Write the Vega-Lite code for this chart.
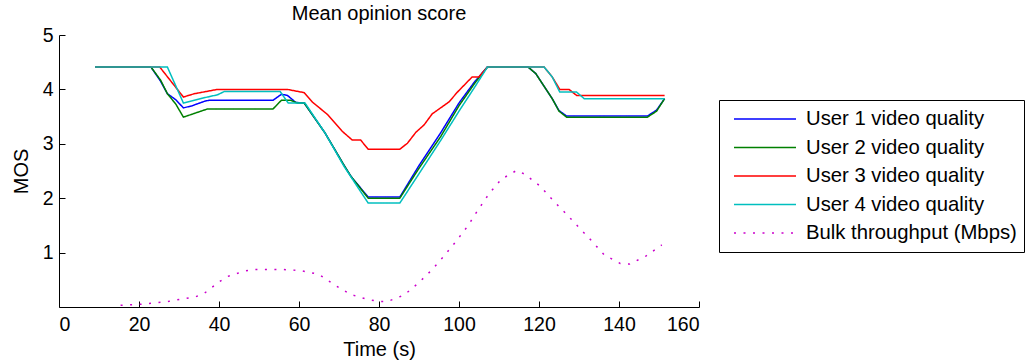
{
  "$schema": "https://vega.github.io/schema/vega-lite/v6.json",
  "width": 640,
  "height": 272,
  "autosize": {"type": "none"},
  "padding": {"left": 59, "top": 35, "right": 328, "bottom": 56},
  "background": "white",
  "title": {"text": "Mean opinion score", "fontSize": 20, "font": "Liberation Sans", "fontWeight": "normal", "offset": 1, "color": "black"},
  "config": {
    "view": {"stroke": null},
    "font": "Liberation Sans",
    "axis": {"grid": false, "domainColor": "black", "tickColor": "black", "labelColor": "black", "titleColor": "black", "labelFont": "Liberation Sans", "titleFont": "Liberation Sans", "labelFontSize": 19.5, "titleFontSize": 20, "titleFontWeight": "normal", "tickSize": -6, "domainWidth": 1, "tickWidth": 1},
    "legend": {"orient": "none", "legendX": 660, "legendY": 65, "strokeColor": "black", "fillColor": "white", "padding": 7, "labelFontSize": 20.3, "labelFont": "Liberation Sans", "labelColor": "black", "symbolType": "stroke", "symbolSize": 3844, "symbolStrokeWidth": 1.5, "symbolOffset": 7, "labelOffset": 9, "rowPadding": 4.5, "clipHeight": 24, "title": null, "labelLimit": 400}
  },
  "data": {"values": [
    {"s": "User 1 video quality", "t": 9, "v": 4.41},
    {"s": "User 1 video quality", "t": 23, "v": 4.41},
    {"s": "User 1 video quality", "t": 25.4, "v": 4.15},
    {"s": "User 1 video quality", "t": 27.1, "v": 3.92},
    {"s": "User 1 video quality", "t": 29.2, "v": 3.81},
    {"s": "User 1 video quality", "t": 31.1, "v": 3.66},
    {"s": "User 1 video quality", "t": 33.3, "v": 3.7},
    {"s": "User 1 video quality", "t": 36.3, "v": 3.78},
    {"s": "User 1 video quality", "t": 37.5, "v": 3.8},
    {"s": "User 1 video quality", "t": 53.5, "v": 3.8},
    {"s": "User 1 video quality", "t": 55.6, "v": 3.91},
    {"s": "User 1 video quality", "t": 57.1, "v": 3.89},
    {"s": "User 1 video quality", "t": 59.2, "v": 3.76},
    {"s": "User 1 video quality", "t": 61.3, "v": 3.75},
    {"s": "User 1 video quality", "t": 66.5, "v": 3.2},
    {"s": "User 1 video quality", "t": 71.3, "v": 2.6},
    {"s": "User 1 video quality", "t": 73, "v": 2.4},
    {"s": "User 1 video quality", "t": 77.3, "v": 2.02},
    {"s": "User 1 video quality", "t": 85.2, "v": 2.02},
    {"s": "User 1 video quality", "t": 90, "v": 2.6},
    {"s": "User 1 video quality", "t": 95.4, "v": 3.2},
    {"s": "User 1 video quality", "t": 100, "v": 3.75},
    {"s": "User 1 video quality", "t": 104, "v": 4.15},
    {"s": "User 1 video quality", "t": 107.1, "v": 4.41},
    {"s": "User 1 video quality", "t": 117.3, "v": 4.41},
    {"s": "User 1 video quality", "t": 119.2, "v": 4.29},
    {"s": "User 1 video quality", "t": 123.3, "v": 3.83},
    {"s": "User 1 video quality", "t": 125, "v": 3.61},
    {"s": "User 1 video quality", "t": 126.9, "v": 3.51},
    {"s": "User 1 video quality", "t": 147.1, "v": 3.51},
    {"s": "User 1 video quality", "t": 149.4, "v": 3.62},
    {"s": "User 1 video quality", "t": 151.4, "v": 3.83},
    {"s": "User 2 video quality", "t": 9, "v": 4.41},
    {"s": "User 2 video quality", "t": 23, "v": 4.41},
    {"s": "User 2 video quality", "t": 25.4, "v": 4.17},
    {"s": "User 2 video quality", "t": 27.1, "v": 3.92},
    {"s": "User 2 video quality", "t": 29.2, "v": 3.73},
    {"s": "User 2 video quality", "t": 31.1, "v": 3.49},
    {"s": "User 2 video quality", "t": 37.1, "v": 3.64},
    {"s": "User 2 video quality", "t": 53.5, "v": 3.64},
    {"s": "User 2 video quality", "t": 55.6, "v": 3.8},
    {"s": "User 2 video quality", "t": 57.9, "v": 3.8},
    {"s": "User 2 video quality", "t": 59.6, "v": 3.75},
    {"s": "User 2 video quality", "t": 61.3, "v": 3.75},
    {"s": "User 2 video quality", "t": 66.5, "v": 3.2},
    {"s": "User 2 video quality", "t": 71.3, "v": 2.6},
    {"s": "User 2 video quality", "t": 73, "v": 2.4},
    {"s": "User 2 video quality", "t": 77.3, "v": 2.0},
    {"s": "User 2 video quality", "t": 85.2, "v": 2.0},
    {"s": "User 2 video quality", "t": 90, "v": 2.55},
    {"s": "User 2 video quality", "t": 95.4, "v": 3.13},
    {"s": "User 2 video quality", "t": 100, "v": 3.7},
    {"s": "User 2 video quality", "t": 104, "v": 4.12},
    {"s": "User 2 video quality", "t": 107.1, "v": 4.41},
    {"s": "User 2 video quality", "t": 117.3, "v": 4.41},
    {"s": "User 2 video quality", "t": 119.2, "v": 4.29},
    {"s": "User 2 video quality", "t": 123.3, "v": 3.83},
    {"s": "User 2 video quality", "t": 125, "v": 3.6},
    {"s": "User 2 video quality", "t": 126.9, "v": 3.49},
    {"s": "User 2 video quality", "t": 147.1, "v": 3.49},
    {"s": "User 2 video quality", "t": 149.4, "v": 3.6},
    {"s": "User 2 video quality", "t": 151.4, "v": 3.83},
    {"s": "User 3 video quality", "t": 9, "v": 4.41},
    {"s": "User 3 video quality", "t": 25.2, "v": 4.41},
    {"s": "User 3 video quality", "t": 31.1, "v": 3.86},
    {"s": "User 3 video quality", "t": 33.8, "v": 3.92},
    {"s": "User 3 video quality", "t": 39.6, "v": 4.0},
    {"s": "User 3 video quality", "t": 57.1, "v": 4.0},
    {"s": "User 3 video quality", "t": 61.3, "v": 3.94},
    {"s": "User 3 video quality", "t": 63.3, "v": 3.77},
    {"s": "User 3 video quality", "t": 67.1, "v": 3.54},
    {"s": "User 3 video quality", "t": 70.8, "v": 3.23},
    {"s": "User 3 video quality", "t": 73.3, "v": 3.07},
    {"s": "User 3 video quality", "t": 75.4, "v": 3.07},
    {"s": "User 3 video quality", "t": 77.3, "v": 2.9},
    {"s": "User 3 video quality", "t": 85.2, "v": 2.9},
    {"s": "User 3 video quality", "t": 87.1, "v": 3.01},
    {"s": "User 3 video quality", "t": 89.2, "v": 3.21},
    {"s": "User 3 video quality", "t": 91.3, "v": 3.35},
    {"s": "User 3 video quality", "t": 93.3, "v": 3.55},
    {"s": "User 3 video quality", "t": 97.5, "v": 3.77},
    {"s": "User 3 video quality", "t": 99.6, "v": 3.95},
    {"s": "User 3 video quality", "t": 103.3, "v": 4.23},
    {"s": "User 3 video quality", "t": 105, "v": 4.23},
    {"s": "User 3 video quality", "t": 107.1, "v": 4.41},
    {"s": "User 3 video quality", "t": 121.3, "v": 4.41},
    {"s": "User 3 video quality", "t": 123.3, "v": 4.23},
    {"s": "User 3 video quality", "t": 125.2, "v": 4.0},
    {"s": "User 3 video quality", "t": 127.5, "v": 4.0},
    {"s": "User 3 video quality", "t": 129.4, "v": 3.89},
    {"s": "User 3 video quality", "t": 151.4, "v": 3.89},
    {"s": "User 4 video quality", "t": 9, "v": 4.41},
    {"s": "User 4 video quality", "t": 27.1, "v": 4.41},
    {"s": "User 4 video quality", "t": 31.1, "v": 3.75},
    {"s": "User 4 video quality", "t": 33.8, "v": 3.8},
    {"s": "User 4 video quality", "t": 37.1, "v": 3.86},
    {"s": "User 4 video quality", "t": 39.6, "v": 3.9},
    {"s": "User 4 video quality", "t": 41.3, "v": 3.96},
    {"s": "User 4 video quality", "t": 55.3, "v": 3.96},
    {"s": "User 4 video quality", "t": 57.3, "v": 3.75},
    {"s": "User 4 video quality", "t": 61.5, "v": 3.75},
    {"s": "User 4 video quality", "t": 66.5, "v": 3.2},
    {"s": "User 4 video quality", "t": 71.3, "v": 2.58},
    {"s": "User 4 video quality", "t": 77.3, "v": 1.91},
    {"s": "User 4 video quality", "t": 85.2, "v": 1.91},
    {"s": "User 4 video quality", "t": 90, "v": 2.45},
    {"s": "User 4 video quality", "t": 95.4, "v": 3.06},
    {"s": "User 4 video quality", "t": 100, "v": 3.6},
    {"s": "User 4 video quality", "t": 104, "v": 4.05},
    {"s": "User 4 video quality", "t": 107.1, "v": 4.41},
    {"s": "User 4 video quality", "t": 121.3, "v": 4.41},
    {"s": "User 4 video quality", "t": 123.3, "v": 4.23},
    {"s": "User 4 video quality", "t": 125.2, "v": 3.95},
    {"s": "User 4 video quality", "t": 129.4, "v": 3.95},
    {"s": "User 4 video quality", "t": 131.3, "v": 3.83},
    {"s": "User 4 video quality", "t": 151.4, "v": 3.83},
    {"s": "Bulk throughput (Mbps)", "t": 15.4, "v": 0.03},
    {"s": "Bulk throughput (Mbps)", "t": 20.4, "v": 0.05},
    {"s": "Bulk throughput (Mbps)", "t": 27.1, "v": 0.1},
    {"s": "Bulk throughput (Mbps)", "t": 34.2, "v": 0.19},
    {"s": "Bulk throughput (Mbps)", "t": 36.3, "v": 0.25},
    {"s": "Bulk throughput (Mbps)", "t": 37.9, "v": 0.34},
    {"s": "Bulk throughput (Mbps)", "t": 40, "v": 0.46},
    {"s": "Bulk throughput (Mbps)", "t": 42.1, "v": 0.56},
    {"s": "Bulk throughput (Mbps)", "t": 46.3, "v": 0.66},
    {"s": "Bulk throughput (Mbps)", "t": 48.8, "v": 0.69},
    {"s": "Bulk throughput (Mbps)", "t": 55.8, "v": 0.69},
    {"s": "Bulk throughput (Mbps)", "t": 60.4, "v": 0.67},
    {"s": "Bulk throughput (Mbps)", "t": 65, "v": 0.6},
    {"s": "Bulk throughput (Mbps)", "t": 68.8, "v": 0.41},
    {"s": "Bulk throughput (Mbps)", "t": 72.9, "v": 0.23},
    {"s": "Bulk throughput (Mbps)", "t": 77.1, "v": 0.14},
    {"s": "Bulk throughput (Mbps)", "t": 80, "v": 0.1},
    {"s": "Bulk throughput (Mbps)", "t": 82.1, "v": 0.1},
    {"s": "Bulk throughput (Mbps)", "t": 86.3, "v": 0.22},
    {"s": "Bulk throughput (Mbps)", "t": 90, "v": 0.45},
    {"s": "Bulk throughput (Mbps)", "t": 93.3, "v": 0.69},
    {"s": "Bulk throughput (Mbps)", "t": 96.3, "v": 0.94},
    {"s": "Bulk throughput (Mbps)", "t": 99.4, "v": 1.22},
    {"s": "Bulk throughput (Mbps)", "t": 102.3, "v": 1.5},
    {"s": "Bulk throughput (Mbps)", "t": 104.8, "v": 1.79},
    {"s": "Bulk throughput (Mbps)", "t": 107.5, "v": 2.08},
    {"s": "Bulk throughput (Mbps)", "t": 110.6, "v": 2.35},
    {"s": "Bulk throughput (Mbps)", "t": 114.4, "v": 2.51},
    {"s": "Bulk throughput (Mbps)", "t": 116.5, "v": 2.44},
    {"s": "Bulk throughput (Mbps)", "t": 120.3, "v": 2.22},
    {"s": "Bulk throughput (Mbps)", "t": 123.5, "v": 1.96},
    {"s": "Bulk throughput (Mbps)", "t": 126.7, "v": 1.72},
    {"s": "Bulk throughput (Mbps)", "t": 130, "v": 1.46},
    {"s": "Bulk throughput (Mbps)", "t": 133.1, "v": 1.22},
    {"s": "Bulk throughput (Mbps)", "t": 136.3, "v": 0.96},
    {"s": "Bulk throughput (Mbps)", "t": 140.3, "v": 0.8},
    {"s": "Bulk throughput (Mbps)", "t": 142.7, "v": 0.79},
    {"s": "Bulk throughput (Mbps)", "t": 146.8, "v": 0.94},
    {"s": "Bulk throughput (Mbps)", "t": 150.7, "v": 1.14}
  ]},
  "mark": {"type": "line", "strokeWidth": 1.5},
  "encoding": {
    "x": {"field": "t", "type": "quantitative", "scale": {"domain": [0, 160], "nice": false}, "axis": {"title": "Time (s)", "values": [0, 20, 40, 60, 80, 100, 120, 140, 160], "labelPadding": 14, "titlePadding": 6}},
    "y": {"field": "v", "type": "quantitative", "scale": {"domain": [0, 5], "nice": false}, "axis": {"title": "MOS", "values": [1, 2, 3, 4, 5], "labelPadding": 12, "titlePadding": 11}},
    "color": {"field": "s", "type": "nominal", "scale": {"domain": ["User 1 video quality", "User 2 video quality", "User 3 video quality", "User 4 video quality", "Bulk throughput (Mbps)"], "range": ["#0000ff", "#008000", "#ff0000", "#00bfbf", "#cc00cc"]}},
    "strokeDash": {"field": "s", "type": "nominal", "scale": {"domain": ["User 1 video quality", "User 2 video quality", "User 3 video quality", "User 4 video quality", "Bulk throughput (Mbps)"], "range": [[1, 0], [1, 0], [1, 0], [1, 0], [2, 7.5]]}}
  }
}
